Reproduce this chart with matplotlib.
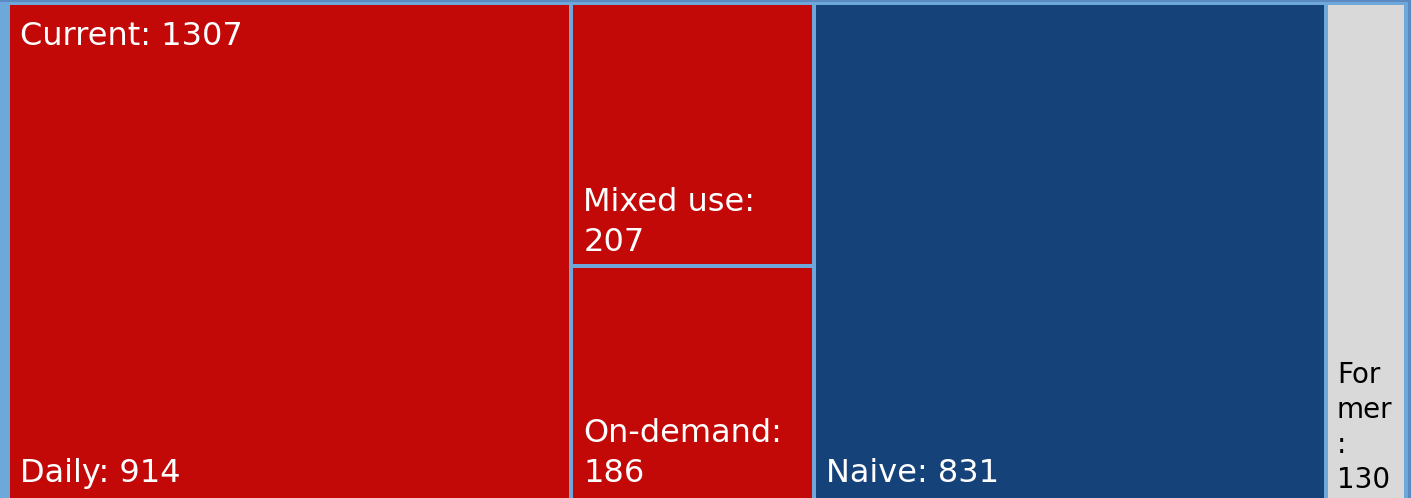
import matplotlib
matplotlib.use("Agg")
import matplotlib.pyplot as plt
from matplotlib.patches import Rectangle

# ---- data ----
groups = ["Current", "Naive", "Former"]
group_values = [1307, 831, 130]
current_children = ["Daily", "Mixed use", "On-demand"]
current_values = [914, 207, 186]

RED = "#c30808"
NAVY = "#16427a"
GRAY = "#d9d9d9"
BG = "#6ea7da"
EDGE = "#5a8ac0"

W, H = 1411, 498
fig = plt.figure(figsize=(W / 100, H / 100), dpi=100, facecolor=BG)
ax = fig.add_axes([0, 0, 1, 1])
ax.set_xlim(0, W)
ax.set_ylim(H, 0)
ax.axis("off")
ax.set_facecolor(BG)

X0, X1, Y0, Y1 = 10, 1408, 5, 504
GAP = 4
FS = 23
LS = 1.36


def cell(x, y, w, h, color):
    ax.add_patch(Rectangle((x, y), w - GAP, h - GAP, facecolor=color,
                           edgecolor="none"))


def bottom_label(x, y, h, text, color="white", fs=FS, ls=LS):
    ax.text(x + 10, y + h - 10, text, color=color, fontsize=fs,
            ha="left", va="bottom", family="DejaVu Sans", linespacing=ls)


total = sum(group_values)
scale_x = (X1 - X0) / total
x = X0
hgt = Y1 - Y0
for g, v in zip(groups, group_values):
    w = v * scale_x
    if g == "Current":
        ctot = sum(current_values)
        # Daily takes its own column
        dw = w * current_values[0] / ctot
        cell(x, Y0, dw, hgt, RED)
        bottom_label(x, Y0, hgt - 5, f"{current_children[0]}: {current_values[0]}")
        # remaining two stacked in second column
        rest = current_values[1] + current_values[2]
        cw = w - dw
        y = Y0
        for name, cv in zip(current_children[1:], current_values[1:]):
            ch = hgt * cv / rest
            cell(x + dw, y, cw, ch, RED)
            bottom_label(x + dw, y, ch - (5 if y + ch >= Y1 else 0),
                         f"{name}:\n{cv}")
            y += ch
        ax.text(x + 10, Y0 + 40, f"{g}: {v}", color="white", fontsize=FS,
                ha="left", va="baseline", family="DejaVu Sans")
    elif g == "Naive":
        cell(x, Y0, w, hgt, NAVY)
        bottom_label(x, Y0, hgt - 5, f"{g}: {v}")
    else:
        cell(x, Y0, w, hgt, GRAY)
        bottom_label(x - 1, Y0, hgt, "For\nmer\n:\n" + str(v),
                     color="black", fs=20, ls=1.32)
    x += w

ax.add_patch(Rectangle((W - 3, 0), 3, H, facecolor=EDGE, edgecolor="none"))
ax.add_patch(Rectangle((0, 0), W, 1.5, facecolor=EDGE, edgecolor="none"))

fig.savefig("out.png", dpi=100, facecolor=BG)
